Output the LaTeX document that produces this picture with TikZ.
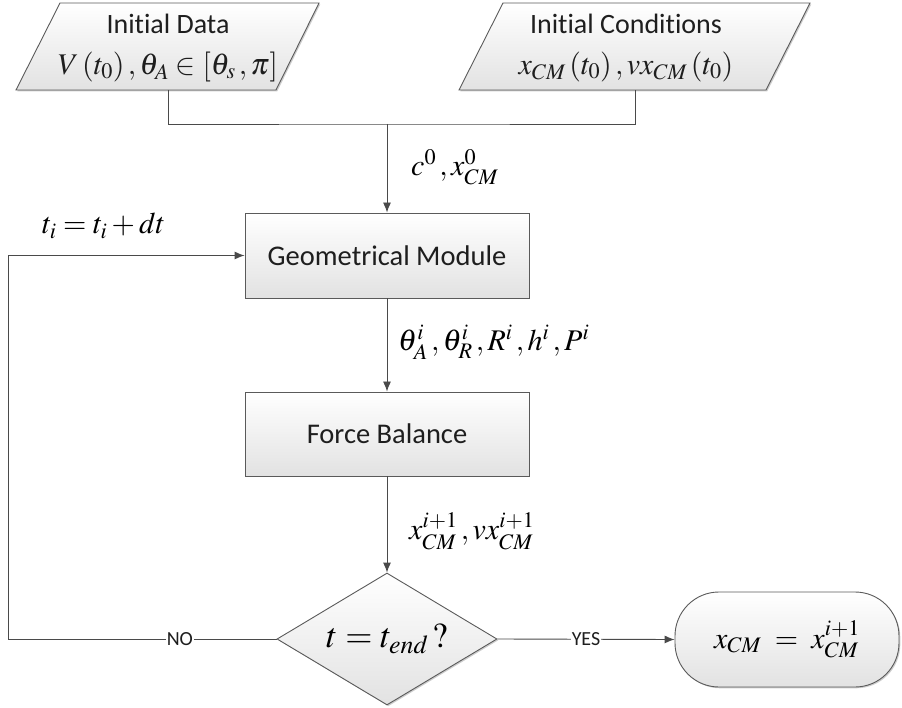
\documentclass[tikz,border=0pt]{standalone}
\usepackage{mathptmx}
\usepackage[no-math]{fontspec}
\newfontfamily\calibri[Ligatures={NoCommon,NoRare}]{Carlito}
\usetikzlibrary{shapes.geometric,arrows.meta,shadows,calc}
\definecolor{boxborder}{HTML}{5A5A5A}
\definecolor{boxbottom}{HTML}{E2E2E2}
\definecolor{linecol}{HTML}{4A4A4A}
\definecolor{textcol}{HTML}{1E1E1E}
\tikzset{
  shade box/.style={draw=boxborder, line width=0.9pt, top color=white, bottom color=boxbottom,
    drop shadow={shadow xshift=1.3pt, shadow yshift=-1.3pt, fill=black, opacity=0.2}},
  procbox/.style={shade box, rectangle, minimum width=284pt, minimum height=85pt, inner sep=0pt,
    text=textcol, font=\calibri\fontsize{28.5}{32}\selectfont},
  iotext/.style={align=center, inner sep=0pt, text=textcol, font=\calibri\fontsize{28}{41}\selectfont},
  decbox/.style={shade box, diamond, aspect=1.667, minimum width=220pt, minimum height=132pt,
    inner sep=0pt, font=\fontsize{35}{42}\selectfont},
  termbox/.style={shade box, rectangle, rounded corners=44pt, minimum width=224pt, minimum height=95pt,
    inner sep=0pt, font=\fontsize{30}{36}\selectfont},
  flow/.style={draw=linecol, line width=0.9pt},
  flowarrow/.style={flow, -{Latex[length=10pt,width=8pt]}},
  mathlabel/.style={inner sep=0pt, font=\fontsize{30}{36}\selectfont},
  yesno/.style={fill=white, inner sep=1pt, text=textcol, font=\calibri\fontsize{20}{24}\selectfont}
}
\begin{document}
\begin{tikzpicture}[x=1pt, y=-1pt]
\useasboundingbox (0,0) rectangle (902,708);
% input parallelograms
\path[shade box] (60,3) -- (319,3) -- (276,90) -- (16,90) -- cycle;
\path[shade box] (503,3) -- (810,3) -- (766,90) -- (459,90) -- cycle;
\node[iotext] (data) at (168,48) {Initial Data\\ {\fontsize{30}{41}\selectfont $V\left(t_0\right), \theta_A \in \left[\theta_s\,, \pi\right]$}};
\node[iotext] (cond) at (626,48) {Initial Conditions\\ {\fontsize{30}{41}\selectfont $x_{CM}\left(t_0\right), vx_{CM}\left(t_0\right)$}};
\coordinate (datab) at (168,90);
\coordinate (condb) at (635,90);
\coordinate (join) at (387,124);
% process boxes
\node[procbox] (geo) at (387,255.5) {Geometrical Module};
\node[procbox, minimum height=84pt] (force) at (387,434) {Force Balance};
\node[decbox] (dec) at (387,639) {$t = t_{end}\,?$};
\node[termbox] (term) at (787,639.5) {$x_{CM} \;=\; x^{i+1}_{CM}$};
\coordinate (loop) at (8,639);
% connectors
\draw[flow] (datab) |- (join) -| (condb);
\draw[flowarrow] (join) -- (geo.north);
\draw[flowarrow] (geo.south) -- (force.north);
\draw[flowarrow] (force.south) -- (dec.north);
\draw[flowarrow] (dec.east) -- node[yesno, pos=0.5]{YES} (term.west);
\draw[flowarrow] (dec.west) -- node[yesno, pos=0.36]{NO} (loop) |- (geo.west);
% labels
\node[mathlabel, anchor=west] (l1) at (411,167) {$c^0\,, x^0_{CM}$};
\node[mathlabel, anchor=west] (l2) at (398,342) {$\theta^i_A\,, \theta^i_R\,, R^i\,, h^i\,, P^i$};
\node[mathlabel, anchor=west] (l3) at (409,531) {$x^{i+1}_{CM}\,, vx^{i+1}_{CM}$};
\node[mathlabel, anchor=west] (l4) at (42,226) {$t_i = t_i + dt$};
\end{tikzpicture}
\end{document}
